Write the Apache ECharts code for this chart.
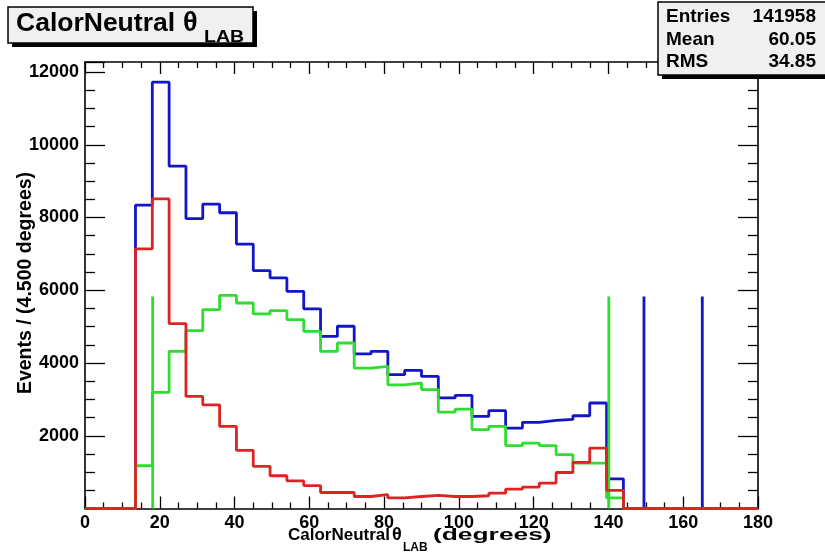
<!DOCTYPE html>
<html>
<head>
<meta charset="utf-8">
<script src="https://cdn.jsdelivr.net/npm/echarts@6/dist/echarts.min.js"></script>
<style>
html,body{margin:0;padding:0;background:#fff;}
#chart{width:825px;height:556px;}
</style>
</head>
<body>
<div id="chart"></div>
<script>
// Histogram binning: 40 bins of 4.5 degrees from 0 to 180
const binWidth = 4.5;
const xTicks = [0, 20, 40, 60, 80, 100, 120, 140, 160, 180];
const yTicks = [2000, 4000, 6000, 8000, 10000, 12000];

// Bin contents (bin 0 = 0–4.5 deg ...)
const blueCounts = [0,0,0,8340,11720,9410,7970,8370,8130,7270,6540,6340,5970,5490,4730,5010,4250,4320,3680,3800,3630,3040,3110,2530,2690,2210,2370,2420,2450,2550,2900,815,0,0,0,0,0,0,0,0];
const greenCounts = [0,0,0,1175,3190,4320,4890,5470,5860,5650,5350,5440,5190,4870,4320,4550,3860,3910,3400,3450,3270,2650,2730,2170,2260,1730,1800,1730,1480,1250,1250,290,0,0,0,0,0,0,0,0];
const redCounts = [0,0,0,7140,8510,5080,3080,2850,2260,1600,1160,900,760,630,440,440,330,380,290,330,360,330,330,350,420,530,590,700,990,1270,1660,500,0,0,0,0,0,0,0,0];

// Vertical marker lines (x position in degrees, height in events)
const blueSpikeX = [149.5, 165.1];
const greenSpikeX = [18.1, 140.1];
const spikeHeight = 5830;

const statsLabels = ['Entries', 'Mean', 'RMS'];
const statsValues = ['141958', '60.05', '34.85'];

const COL_BLUE = '#1414c8';
const COL_GREEN = '#30dc30';
const COL_RED = '#dc2424';

function stepData(counts) {
  const pts = [];
  counts.forEach((v, i) => {
    pts.push([i * binWidth, v]);
    pts.push([(i + 1) * binWidth, v]);
  });
  return pts;
}

function histSeries(counts, color, z) {
  return {
    type: 'line', data: stepData(counts), showSymbol: false, symbol: 'none',
    lineStyle: { color: color, width: 2.8 }, z: z, silent: true, animation: false,
    xAxisIndex: 0, yAxisIndex: 0
  };
}
function spikeSeries(x, color, z) {
  return {
    type: 'line', data: [[x, 0], [x, spikeHeight]], showSymbol: false, symbol: 'none',
    lineStyle: { color: color, width: 2.8 }, z: z, silent: true, animation: false,
    xAxisIndex: 0, yAxisIndex: 0
  };
}

const FONT = '"Liberation Sans", Arial, Helvetica, sans-serif';
const labelStyle = { color: '#000', fontFamily: FONT, fontWeight: 'bold', fontSize: 18 };

const series = [
  histSeries(blueCounts, COL_BLUE, 2),
  ...blueSpikeX.map(x => spikeSeries(x, COL_BLUE, 2)),
  histSeries(greenCounts, COL_GREEN, 3),
  ...greenSpikeX.map(x => spikeSeries(x, COL_GREEN, 3)),
  histSeries(redCounts, COL_RED, 4)
];

function xAx(pos, showLabel) {
  return {
    type: 'value', position: pos, min: xTicks[0], max: xTicks[xTicks.length - 1], interval: 20,
    axisLine: { show: true, onZero: false, lineStyle: { color: '#000', width: 1.6 } },
    axisTick: { show: true, inside: true, length: 12, lineStyle: { color: '#000', width: 1.3 } },
    minorTick: { show: true, splitNumber: 4, length: 6, lineStyle: { color: '#000', width: 1.3 } },
    splitLine: { show: false },
    axisLabel: Object.assign({ show: showLabel, margin: 6 }, labelStyle)
  };
}
function yAx(pos, showLabel) {
  return {
    type: 'value', position: pos, min: 0, max: 12275, interval: 2000,
    axisLine: { show: true, onZero: false, lineStyle: { color: '#000', width: 1.6 } },
    axisTick: { show: true, inside: true, length: 20, lineStyle: { color: '#000', width: 1.3 } },
    minorTick: { show: true, splitNumber: 4, length: 10, lineStyle: { color: '#000', width: 1.3 } },
    splitLine: { show: false },
    axisLabel: Object.assign({ show: showLabel, margin: 6, showMinLabel: false, showMaxLabel: false,
      formatter: v => (yTicks.indexOf(v) >= 0 ? String(v) : '') }, labelStyle)
  };
}

function txt(text, x, y, size, opts) {
  opts = opts || {};
  return {
    type: 'text', x: x, y: y, z: 102, rotation: opts.rotation || 0,
    scaleX: opts.scaleX || 1, originX: 0, originY: 0,
    style: { text: text, font: 'bold ' + size + 'px ' + FONT, fill: '#000',
      align: opts.align || 'left', verticalAlign: 'middle',
      textAlign: opts.align || 'left', textVerticalAlign: 'middle' }
  };
}

const chart = echarts.init(document.getElementById('chart'), null, { renderer: 'canvas' });

const graphics = [
  // title box
  { type: 'rect', shape: { x: 12, y: 11, width: 245, height: 36 }, style: { fill: '#000' }, z: 100 },
  { type: 'rect', shape: { x: 8, y: 7, width: 245, height: 36 }, style: { fill: '#f0f0f0', stroke: '#000', lineWidth: 1.5 }, z: 101 },
  txt('CalorNeutral', 16, 24, 26.5),
  txt('θ', 183, 24, 27),
  txt('LAB', 204, 38, 16, { scaleX: 1.22 }),
  // stats box
  { type: 'rect', shape: { x: 662, y: 6, width: 170, height: 73 }, style: { fill: '#000' }, z: 100 },
  { type: 'rect', shape: { x: 658, y: 2, width: 170, height: 73 }, style: { fill: '#f0f0f0', stroke: '#000', lineWidth: 1.5 }, z: 101 },
  // x axis title
  txt('CalorNeutral', 288, 535, 17),
  txt('θ', 392, 535, 18),
  txt('LAB', 403, 548, 12),
  txt('(degrees)', 433, 535, 17, { scaleX: 1.55 }),
  // y axis title
  txt('Events / (4.500 degrees)', 26, 283, 19.5, { rotation: Math.PI / 2, align: 'center' })
];
const rowY = [17, 40, 62];
statsLabels.forEach((l, i) => {
  graphics.push(txt(l, 666, rowY[i], 19));
  graphics.push(txt(statsValues[i], 816, rowY[i], 19, { align: 'right' }));
});

chart.setOption({
  animation: false,
  backgroundColor: '#fff',
  grid: { left: 85, right: 67, top: 62, bottom: 47.5, containLabel: false, show: false },
  xAxis: [xAx('bottom', true), xAx('top', false)],
  yAxis: [yAx('left', true), yAx('right', false)],
  series: series,
  graphic: graphics
});
</script>
</body>
</html>
